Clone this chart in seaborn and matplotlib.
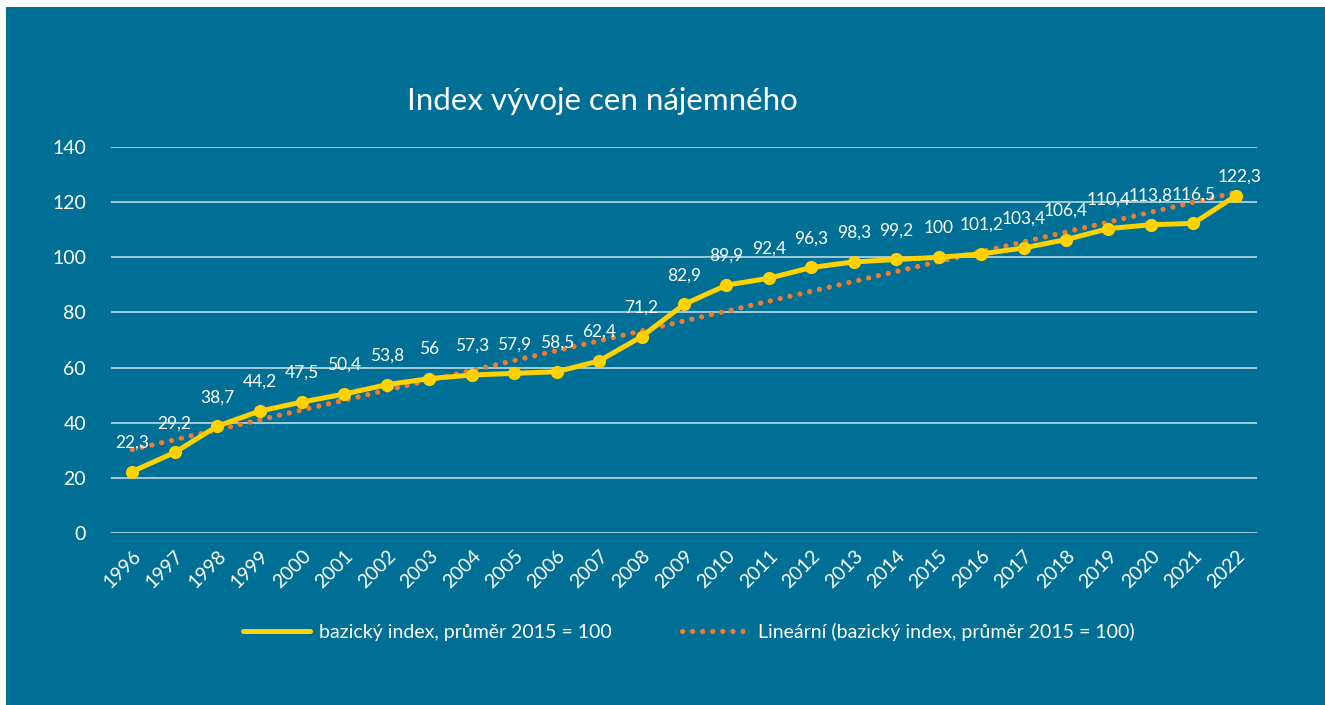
import numpy as np
import pandas as pd
import matplotlib.pyplot as plt
import seaborn as sns

years = [str(y) for y in range(1996, 2023)]
# plotted index values (as drawn in the chart)
index_values = [22.3, 29.2, 38.7, 44.2, 47.5, 50.4, 53.8, 56.0, 57.3, 57.9, 58.5, 62.4, 71.2,
                82.9, 89.9, 92.4, 96.3, 98.3, 99.2, 100.0, 101.2, 103.4, 106.4, 110.4, 111.8, 112.3, 122.3]
# data labels as printed in the chart
label_texts = ['22,3', '29,2', '38,7', '44,2', '47,5', '50,4', '53,8', '56', '57,3', '57,9', '58,5',
               '62,4', '71,2', '82,9', '89,9', '92,4', '96,3', '98,3', '99,2', '100', '101,2',
               '103,4', '106,4', '110,4', '113,8', '116,5', '122,3']

series_name = 'bazický index, průměr 2015 = 100'
trend_name = 'Lineární (bazický index, průměr 2015 = 100)'

bg = '#006f95'
df = pd.DataFrame({'pos': np.arange(len(years)), 'value': index_values})
slope, intercept = np.polyfit(df['pos'], df['value'], 1)
df['trend'] = intercept + slope * df['pos']

sns.set_theme(style='white')
plt.rcParams['font.family'] = ['Lato', 'DejaVu Sans']

fig = plt.figure(figsize=(13.25, 7.05), dpi=100, facecolor='white')
bg_ax = fig.add_axes([6 / 1325, 0, 1 - 6 / 1325, 1 - 7 / 705], zorder=-5)
bg_ax.axis('off')
bg_ax.add_patch(plt.Rectangle((0, 0), 1, 1, transform=bg_ax.transAxes, facecolor=bg, edgecolor='none'))

ax = fig.add_axes([111 / 1325, 1 - 533 / 705, 1146 / 1325, 386 / 705])
ax.patch.set_alpha(0)

sns.lineplot(data=df, x='pos', y='trend', ax=ax, color='#ed7d31', linewidth=3.8,
             linestyle=(0, (0.01, 1.9)), dash_capstyle='round', label=trend_name, zorder=3)
sns.lineplot(data=df, x='pos', y='value', ax=ax, color='#ffd200', linewidth=3.6,
             marker='o', markersize=9.5, markeredgewidth=0, label=series_name, zorder=4)

n = len(label_texts)
for i, (x, y, t) in enumerate(zip(df['pos'], df['value'], label_texts)):
    dx, dy = (3, 14) if i == n - 1 else (0, 21)
    ax.annotate(t, (x, y), xytext=(dx, dy), textcoords='offset points', ha='center', va='center',
                color='white', fontsize=12.5, zorder=5)

ax.set_xlim(-0.5, len(years) - 0.5)
ax.set_ylim(0, 140)
ax.set_yticks(range(0, 141, 20))
ax.set_xticks(df['pos'])
ax.set_xticklabels(years, rotation=45, ha='right', rotation_mode='anchor')
ax.tick_params(axis='both', colors='white', labelsize=14, length=0)
ax.tick_params(axis='x', pad=10)
ax.tick_params(axis='y', pad=18)
ax.grid(axis='y', color='white', alpha=0.8, linewidth=1.1)
ax.set_axisbelow(True)
for s in ax.spines.values():
    s.set_visible(False)
ax.set_xlabel('')
ax.set_ylabel('')

handles, labels = ax.get_legend_handles_labels()
order = [labels.index(series_name), labels.index(trend_name)]
ax.legend([handles[i] for i in order], [labels[i] for i in order], ncol=2, frameon=False,
          loc='center', bbox_to_anchor=(689 / 1325, 1 - 632 / 705), bbox_transform=fig.transFigure,
          fontsize=14, labelcolor='white', handlelength=3.4, columnspacing=3.6, handletextpad=0.5)
for line in ax.get_legend().get_lines():
    line.set_marker('')

fig.text(602 / 1325, 1 - 101 / 705, 'Index vývoje cen nájemného', color='white',
         fontsize=22.5, ha='center', va='center')

fig.savefig('out.png', dpi=100, facecolor=fig.get_facecolor())
